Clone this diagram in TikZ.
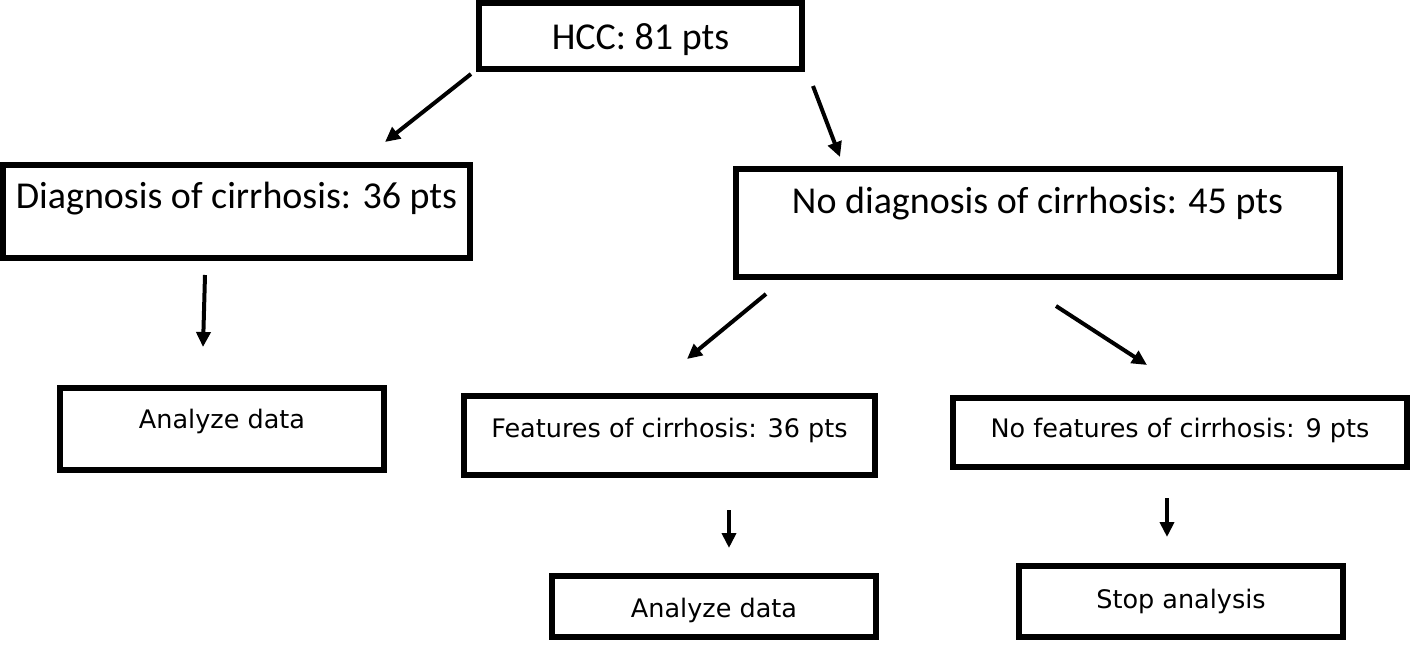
\documentclass[tikz,border=0pt]{standalone}
\usepackage{fontspec}
\setmainfont{Carlito}
\newfontfamily\smallboxfont{DejaVu Sans}
\usetikzlibrary{arrows.meta}
\tikzset{
  bigbox/.style={draw=black, line width=6pt, fill=white, inner sep=0pt,
    font=\fontsize{38}{40}\selectfont},
  smallbox/.style={draw=black, line width=6pt, fill=white, inner sep=0pt,
    font=\smallboxfont\fontsize{25.5}{28}\selectfont},
  arr/.style={line width=4pt, -{Triangle[length=15pt,width=14pt]}}
}
\begin{document}
\begin{tikzpicture}[x=1pt,y=-1pt]
\useasboundingbox (0,0) rectangle (1417,645);
\fill[white] (0,0) rectangle (1417,645);
% boxes
\node[bigbox, minimum width=323pt, minimum height=66pt, text height=28pt, text depth=2pt] (hcc) at (640.5,36) {HCC: 81 pts};
\node[bigbox, minimum width=467pt, minimum height=93pt, text height=28pt, text depth=35pt] (diag) at (236.5,211.5) {Diagnosis of cirrhosis: 36 pts};
\node[bigbox, minimum width=604pt, minimum height=108pt, text height=28pt, text depth=48pt] (nodiag) at (1037.5,223) {No diagnosis of cirrhosis: 45 pts};
\node[smallbox, minimum width=324pt, minimum height=82pt, text height=20pt, text depth=22pt] (anal) at (222,429) {Analyze data};
\node[smallbox, minimum width=411pt, minimum height=79pt, text height=21pt, text depth=18pt] (feat) at (669.5,435.5) {Features of cirrhosis: 36 pts};
\node[smallbox, minimum width=454pt, minimum height=69pt, text height=21pt, text depth=12pt] (nofeat) at (1180,432.5) {No features of cirrhosis: 9 pts};
\node[smallbox, minimum width=324pt, minimum height=61pt, text height=22pt, text depth=1pt] (anab) at (714,606.5) {Analyze data};
\node[smallbox, minimum width=324pt, minimum height=71pt, text height=20pt, text depth=7pt] (stop) at (1181,601.5) {Stop analysis};
% arrow end points
\coordinate (a1s) at (471,74);   \coordinate (a1e) at (385,142);
\coordinate (a2s) at (813,86);   \coordinate (a2e) at (840,157);
\coordinate (a3s) at (205,275);  \coordinate (a3e) at (203,347);
\coordinate (a4s) at (766,294);  \coordinate (a4e) at (687,359);
\coordinate (a5s) at (1056,306); \coordinate (a5e) at (1147,365);
\coordinate (a6s) at (729,510);  \coordinate (a6e) at (729,548);
\coordinate (a7s) at (1167,498); \coordinate (a7e) at (1167,537);
\draw[arr] (a1s) -- (a1e);
\draw[arr] (a2s) -- (a2e);
\draw[arr] (a3s) -- (a3e);
\draw[arr] (a4s) -- (a4e);
\draw[arr] (a5s) -- (a5e);
\draw[arr] (a6s) -- (a6e);
\draw[arr] (a7s) -- (a7e);
\end{tikzpicture}
\end{document}
